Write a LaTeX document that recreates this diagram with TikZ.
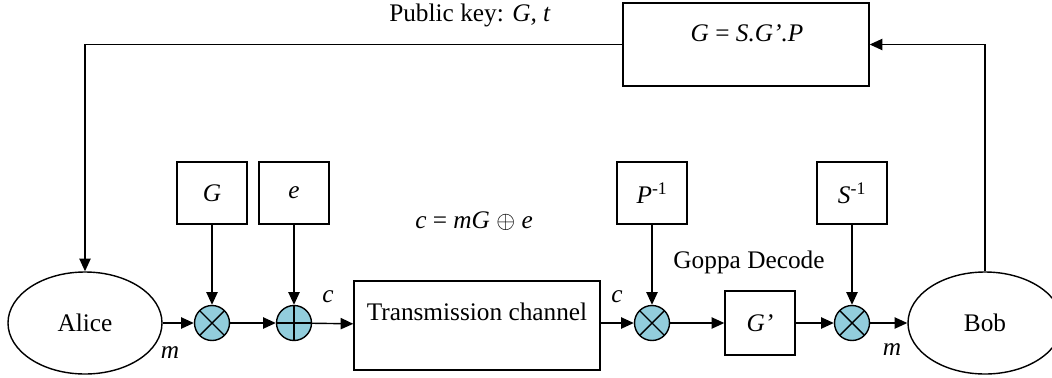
\documentclass[tikz,border=0pt]{standalone}
\usepackage{fontspec}
\setmainfont{Liberation Serif}
\usetikzlibrary{arrows.meta,shapes.geometric}
\definecolor{aqua}{RGB}{146,205,220}
\tikzset{
  blk/.style={draw,line width=1pt,minimum width=1.75cm,minimum height=1.55cm,inner sep=0pt},
  wide/.style={blk,minimum width=6.15cm},
  party/.style={ellipse,draw,line width=1pt,minimum width=3.85cm,minimum height=2.55cm,inner sep=0pt},
  mulop/.style={circle,draw,line width=1pt,fill=aqua,minimum size=0.875cm,inner sep=0pt,
    path picture={\draw[line width=1pt]
      (path picture bounding box.north west)--(path picture bounding box.south east)
      (path picture bounding box.north east)--(path picture bounding box.south west);}},
  xorop/.style={circle,draw,line width=1pt,fill=aqua,minimum size=0.875cm,inner sep=0pt,
    path picture={\draw[line width=1pt]
      (path picture bounding box.north)--(path picture bounding box.south)
      (path picture bounding box.east)--(path picture bounding box.west);}},
}
\begin{document}
\begin{tikzpicture}[>={Triangle[length=9pt,width=8pt]},font=\fontsize{18}{22}\selectfont]
    \useasboundingbox (0,0) rectangle (26.3,9.425);
        % sender and receiver
        \node[party] (alice) at (2.125,1.35) {Alice};
        \node[party] (bob) at (24.625,1.35) {Bob};
        % key generation
        \node[wide,minimum height=2.075cm] (key) at (18.65,8.3125) {};
        \node (keytxt) at (18.675,8.6) {\textit{G} = \textit{S.G’.P}};
        \node (pub) at (11.75,9.05) {Public key: \textit{G, t}};
        % encryption
        \node[mulop] (m1) at (5.3,1.35) {};
        \node[xorop] (x1) at (7.35,1.35) {};
        \node[blk] (G) at (5.3,4.6) {\textit{G}};
        \node[blk] (E) at (7.35,4.6) {\textit{e}};
        \node (eq) at (11.85,3.9) {\textit{c} = \textit{mG} $\oplus$ \textit{e}};
        % channel
        \node[wide,minimum height=2.225cm] (chan) at (11.925,1.2875) {};
        \node (chantxt) at (11.925,1.625) {Transmission channel};
        % decryption
        \node[mulop] (m2) at (16.3,1.35) {};
        \node[blk,minimum height=1.6cm] (Gp) at (19.0,1.35) {\textit{G’}};
        \node[mulop] (m3) at (21.3,1.35) {};
        \node[blk] (Pinv) at (16.3,4.6) {\textit{P}\textsuperscript{-1}};
        \node[blk] (Sinv) at (21.3,4.6) {\textit{S}\textsuperscript{-1}};
        \node (goppa) at (18.725,2.875) {Goppa Decode};
        % signal labels
        \node (m) at (4.25,0.6) {\textit{m}};
        \node (c) at (8.2,2.0) {\textit{c}};
        \node (c2) at (15.425,2.0) {\textit{c}};
        \node (m4) at (22.3,0.68) {\textit{m}};
        % connectors
        \begin{scope}[line width=1pt]
        \draw[->] (alice)--(m1);
        \draw[->] (m1)--(x1);
        \draw[->] (x1)--(chan);
        \draw[->] (chan.east|-m2)--(m2);
        \draw[->] (m2)--(Gp.west|-m2);
        \draw[->] (Gp.east|-m3)--(m3);
        \draw[->] (m3)--(bob);
        \draw[->] (G)--(m1);
        \draw[->] (E)--(x1);
        \draw[->] (Pinv)--(m2);
        \draw[->] (Sinv)--(m3);
        \draw[->] (key.west)-|(alice.north);
        \draw[->] (bob.north)|-(key.east);
        \end{scope}
    \end{tikzpicture}
\end{document}
